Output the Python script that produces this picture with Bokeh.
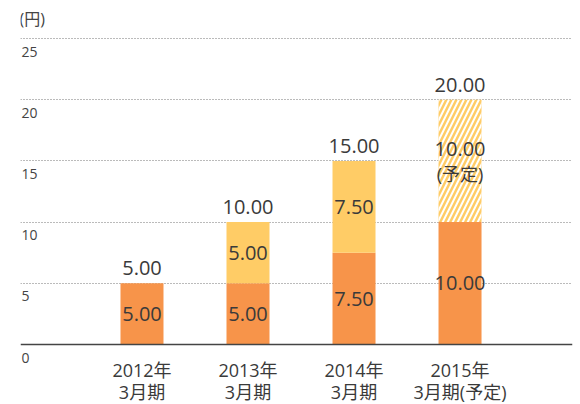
from bokeh.plotting import figure
from bokeh.models import ColumnDataSource, Range1d, Span, FixedTicker
from bokeh.core.properties import value
from bokeh.embed import file_html
from bokeh.resources import INLINE

# ---- data ----
year_labels = ["2012年", "2013年", "2014年", "2015年"]
period_labels = ["3月期", "3月期", "3月期", "3月期(予定)"]
base_values = [5.00, 5.00, 7.50, 10.00]
upper_values = [0.00, 5.00, 7.50, 10.00]
upper_is_forecast = [False, False, False, True]
y_ticks = [0, 5, 10, 15, 20, 25]
unit_label = "(円)"

ORANGE = "#F7944A"
YELLOW = "#FFCC66"
TEXT = "#3a3a3a"
FONT = value("'Open Sans', 'Noto Sans CJK JP', sans-serif")

xs = list(range(len(year_labels)))
totals = [b + u for b, u in zip(base_values, upper_values)]

p = figure(width=580, height=404, output_backend="svg", toolbar_location=None,
           x_range=Range1d(-1.146, 4.061), y_range=Range1d(-4.902, 28.105),
           min_border_left=20, min_border_right=8, min_border_top=0, min_border_bottom=0)
p.axis.visible = False
p.outline_line_color = None
p.xgrid.grid_line_color = None
p.ygrid.ticker = FixedTicker(ticks=[t for t in y_ticks if t > 0])
p.ygrid.grid_line_color = "#777777"
p.ygrid.grid_line_dash = "1 2"
p.ygrid.grid_line_width = 1
p.background_fill_color = "white"
p.border_fill_color = "white"

W = 43 / 106

# base bars
p.vbar(x=xs, bottom=0, top=base_values, width=W, fill_color=ORANGE, line_color=None)

sel_a = [i for i in xs if not upper_is_forecast[i] and upper_values[i] > 0]
sel_f = [i for i in xs if upper_is_forecast[i]]

act = ColumnDataSource(dict(
    x=sel_a,
    b=[base_values[i] for i in sel_a],
    t=[totals[i] for i in sel_a],
))
p.vbar(x="x", bottom="b", top="t", width=W, fill_color=YELLOW, line_color=None, source=act)

fc = ColumnDataSource(dict(
    x=sel_f,
    b=[base_values[i] for i in sel_f],
    t=[totals[i] for i in sel_f],
))
p.vbar(x="x", bottom="b", top="t", width=W, fill_color=YELLOW, line_color=None,
       hatch_pattern="/", hatch_color="white", hatch_weight=2, hatch_scale=10,
       source=fc)

# baseline
p.add_layout(Span(location=0, dimension="width", line_color="#444444", line_width=1.5))

txt = dict(text_font=FONT, text_color=TEXT, text_align="center", text_baseline="middle")
FS = "20px"

# base labels
p.text(x=xs, y=[b / 2 for b in base_values], text=[f"{b:.2f}" for b in base_values],
       text_font_size=FS, **txt)
# upper labels (actual)
p.text(x=sel_a, y=[base_values[i] + upper_values[i] / 2 for i in sel_a],
       text=[f"{upper_values[i]:.2f}" for i in sel_a], text_font_size=FS, **txt)
# upper labels (forecast)
mid_f = [base_values[i] + upper_values[i] / 2 for i in sel_f]
p.text(x=sel_f, y=mid_f, text=[f"{upper_values[i]:.2f}" for i in sel_f], y_offset=-12,
       text_font_size=FS, **txt)
p.text(x=sel_f, y=mid_f, text=["(予定)"] * len(sel_f), y_offset=13,
       text_font_size="18px", **txt)
# totals
p.text(x=xs, y=totals, text=[f"{t:.2f}" for t in totals], y_offset=-15,
       text_font_size=FS, **txt)

# category labels
p.text(x=xs, y=[0] * len(xs), text=year_labels, y_offset=25, text_font_size="18px", **txt)
p.text(x=xs, y=[0] * len(xs), text=period_labels, y_offset=47, text_font_size="18px", **txt)

# y tick labels
p.text(x=[p.x_range.start] * len(y_ticks), y=y_ticks, text=[str(t) for t in y_ticks],
       y_offset=13, x_offset=1, text_font=FONT, text_color="#444444",
       text_font_size="14px", text_align="left", text_baseline="middle")
p.text(x=[p.x_range.start], y=[y_ticks[-1]], text=[unit_label], y_offset=-20, x_offset=-1,
       text_font=FONT, text_color="#444444", text_font_size="16px",
       text_align="left", text_baseline="middle")

open("out.html", "w").write(file_html(p, INLINE))
